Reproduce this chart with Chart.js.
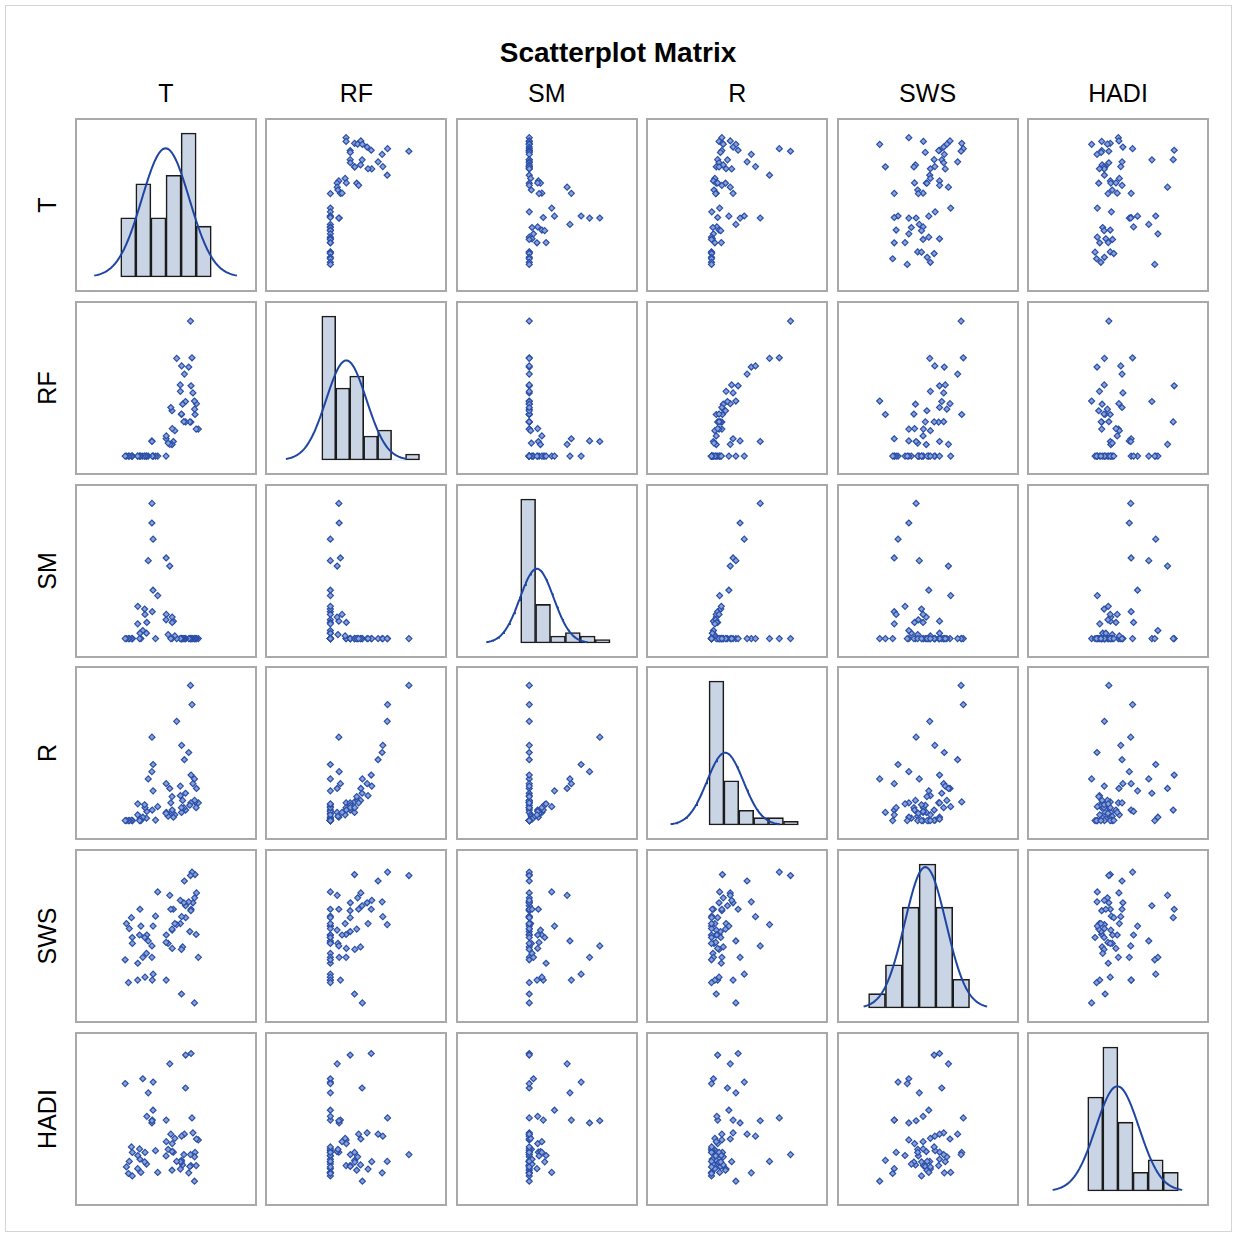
<!DOCTYPE html>
<html>
<head>
<meta charset="utf-8">
<script src="https://cdn.jsdelivr.net/npm/chart.js@4.4.1/dist/chart.umd.min.js"></script>
<style>
  html, body { margin: 0; padding: 0; background: #fff; }
  body { width: 1233px; height: 1233px; position: relative; overflow: hidden;
         font-family: "Liberation Sans", Arial, sans-serif; color: #000; }
  #frame { position: absolute; left: 5px; top: 5px; width: 1225px; height: 1225px;
           border: 1px solid #d4d4d4; }
  .txt { position: absolute; text-align: center; white-space: nowrap; }
  .title { font-size: 28px; font-weight: bold; height: 34px; line-height: 34px; }
  .lab { font-size: 25px; height: 30px; line-height: 30px; }
  .panel { position: absolute; box-sizing: border-box; width: 182px; height: 174px;
           border: 2px solid #a9a9a9; background: #fff; }
  .panel canvas { display: block; }
</style>
</head>
<body>
<div id="frame"></div>
<div id="root"></div>
<script>
// ---- observations (one entry per site, same order in every array) ----
const T = [31.1, 30.58, 30.49, 30.18, 30.05, 30.02, 29.58, 29.32, 29.06, 29.0,
           28.9, 28.71, 28.4, 27.53, 27.5, 27.18, 27.03, 26.68, 26.37, 26.35,
           26.4, 26.02, 26.05, 25.0, 24.48, 24.08, 23.72, 23.7, 23.75, 23.36,
           23.06, 22.6, 22.05, 22.08, 22.02, 19.66, 19.05, 18.37, 18.35, 18.13,
           18.03, 18.05, 17.0, 16.6, 16.5, 16.09, 15.99, 15.47, 14.93, 14.67,
           14.56, 14.05, 14.02, 12.53, 12.5, 12.27, 11.66, 11.42, 10.85, 10.5];
const RF = [23.9, 46.4, 23.9, 36.8, 41.5, 48.7, 55.9, 87.0, 62.2, 30.1,
            119.5, 30.3, 78.8, 30.2, 48.3, 72.6, 30.4, 45.9, 36.8, 37.2,
            79.8, 63.0, 57.3, 86.5, 22.5, 12.9, 10.2, 40.1, 24.3, 43.0,
            10.4, 11.5, 15.3, 17.8, 0, 0, 0, 0, 0, 0,
            13.4, 12.9, 0, 0, 0, 0, 0, 0, 0, 0,
            0, 0, 0, 0, 0, 0, 0, 0, 0, 0];
const SM = [0, 0, 0, 0, 0, 0, 0, 0, 0, 0,
            0, 0, 0, 0, 0, 0, 0, 0, 0, 0,
            0, 0, 0, 0, 1.0, 6.5, 8, 0, 6, 0,
            27, 1.5, 30, 9, 7, 16, 0, 37, 18, 10,
            43, 50.3, 29, 6, 2, 9, 11, 3, 0, 2,
            0, 12, 5.5, 0, 0, 0, 0, 0, 0, 0];
const R = [4, 7, 3, 4.2, 4.5, 9, 8, 24.5, 9.8, 4,
           28.5, 3.5, 14.5, 2.5, 6, 13, 3, 4.5, 2, 3,
           16, 7.5, 5.5, 21, 1.5, 1, 2, 5.3, 2.5, 4,
           7, 1.2, 8, 2, 1.8, 3.2, 0.4, 12, 6.5, 2.5,
           10.5, 17.7, 9, 2.2, 0.8, 3.0, 3.6, 1.0, 0.3, 0.6,
           0.3, 3.8, 1.5, 0.3, 0.3, 0.35, 0.3, 0.3, 0.3, 0.3];
const SWS = [21.6, 34.6, 26.2, 38.3, 33.6, 12.4, 32.6, 38.8, 31.3, 31.0,
             38.1, 26.8, 32.8, 29.6, 32.0, 37.0, 32.6, 23.7, 14.2, 23.2,
             29.8, 33.1, 28.4, 28.2, 28.4, 31.3, 27.1, 27.3, 23.4, 31.3,
             34.1, 24.4, 17.0, 26.1, 24.6, 34.8, 29.9, 18.2, 27.9, 17.0,
             21.6, 23.9, 24.9, 26.1, 22.4, 17.6, 25.6, 21.6, 27.9, 31.3,
             26.1, 20.4, 17.0, 24.4, 25.6, 29.6, 27.4, 16.5, 28.4, 21.1];
const HADI = [0.403, 0.407, 0.286, 0.346, 0.326, 0.215, 0.435, 0.503, 0.796, 0.286,
              0.336, 0.282, 0.253, 0.789, 0.639, 0.429, 0.336, 0.289, 0.31, 0.302,
              0.42, 0.304, 0.27, 0.305, 0.41, 0.347, 0.35, 0.265, 0.386, 0.429,
              0.749, 0.36, 0.493, 0.395, 0.33, 0.255, 0.354, 0.666, 0.538, 0.493,
              0.48, 0.49, 0.617, 0.51, 0.293, 0.346, 0.303, 0.681, 0.255, 0.315,
              0.362, 0.332, 0.272, 0.346, 0.239, 0.371, 0.305, 0.25, 0.28, 0.659];

const VAR_NAMES = ['T', 'RF', 'SM', 'R', 'SWS', 'HADI'];
const VAR_DATA = [T, RF, SM, R, SWS, HADI];

// histogram binning for each variable: first bin edge, bin width, number of bins
const BIN_START = [10, -10, -5, 0, 10, 0.2];
const BIN_WIDTH = [4, 20, 10, 5, 5, 0.1];
const BIN_COUNT = [6, 7, 6, 6, 6, 6];

// axis extents: horizontal (column) and vertical (row) for each variable
const X_RANGE = [[-1.6, 45.6], [-88.5, 166.5], [-47.1, 72.4], [-20.5, 39.3], [1.2, 54.1], [-0.189, 0.99]];
const Y_RANGE = [[7.19, 33.13], [-10.4, 130.9], [-4.54, 54.84], [-2.25, 31.05], [9.8, 42.0], [0.135, 0.861]];

// ---- layout ----
const GRID_LEFT = 75, GRID_TOP = 118, STEP_X = 190.4, STEP_Y = 182.8;
const PANEL_W = 182, PANEL_H = 174, BORDER = 2;
const MARK = '#2a4ea8';
const MARK_FILL = '#8aa2d8';
const CURVE = '#1f45a3';

const root = document.getElementById('root');

function addText(cls, text, left, top, width, rotate) {
  const d = document.createElement('div');
  d.className = 'txt ' + cls;
  d.textContent = text;
  d.style.left = left + 'px';
  d.style.top = top + 'px';
  d.style.width = width + 'px';
  if (rotate) d.style.transform = 'rotate(-90deg)';
  root.appendChild(d);
}

addText('title', 'Scatterplot Matrix', 618 - 300, 36.3, 600);

VAR_NAMES.forEach((name, k) => {
  const cx = GRID_LEFT + STEP_X * k + PANEL_W / 2;
  addText('lab', name, cx - PANEL_W / 2, 78.3, PANEL_W);
  const cy = GRID_TOP + STEP_Y * k + PANEL_H / 2;
  addText('lab', name, 46.7 - PANEL_H / 2, cy - 15, PANEL_H, true);
});

const baseOptions = () => ({
  responsive: false,
  animation: false,
  devicePixelRatio: 1,
  events: [],
  layout: { padding: 0 },
  plugins: { legend: { display: false }, tooltip: { enabled: false }, title: { display: false } }
});

function histogram(k) {
  const vals = VAR_DATA[k];
  const counts = new Array(BIN_COUNT[k]).fill(0);
  vals.forEach(v => {
    let b = Math.floor((v - BIN_START[k]) / BIN_WIDTH[k] + 1e-9);
    b = Math.max(0, Math.min(BIN_COUNT[k] - 1, b));
    counts[b] += 1;
  });
  return counts.map((c, b) => ({ x: BIN_START[k] + BIN_WIDTH[k] * (b + 0.5), y: c }));
}

function normalCurve(k) {
  const vals = VAR_DATA[k];
  const n = vals.length;
  const mean = vals.reduce((a, b) => a + b, 0) / n;
  const sd = Math.sqrt(vals.reduce((a, b) => a + (b - mean) * (b - mean), 0) / (n - 1));
  const pts = [];
  const steps = 120;
  for (let s = 0; s <= steps; s++) {
    const x = mean - 3 * sd + (6 * sd) * s / steps;
    const z = (x - mean) / sd;
    const dens = Math.exp(-0.5 * z * z) / (sd * Math.sqrt(2 * Math.PI));
    pts.push({ x, y: n * BIN_WIDTH[k] * dens });
  }
  return pts;
}

function makePanel(i, j) {
  const div = document.createElement('div');
  div.className = 'panel';
  div.style.left = Math.round(GRID_LEFT + STEP_X * j) + 'px';
  div.style.top = Math.round(GRID_TOP + STEP_Y * i) + 'px';
  const cv = document.createElement('canvas');
  cv.width = PANEL_W - 2 * BORDER;
  cv.height = PANEL_H - 2 * BORDER;
  cv.style.width = cv.width + 'px';
  cv.style.height = cv.height + 'px';
  div.appendChild(cv);
  root.appendChild(div);

  const opts = baseOptions();
  if (i === j) {
    const bins = histogram(j);
    const curve = normalCurve(j);
    const top = Math.max(...bins.map(b => b.y), ...curve.map(p => p.y));
    opts.scales = {
      x: { type: 'linear', display: false, offset: false, min: X_RANGE[j][0], max: X_RANGE[j][1],
           ticks: { stepSize: BIN_WIDTH[j], includeBounds: false } },
      y: { type: 'linear', display: false, min: -0.09 * top, max: 1.09 * top }
    };
    new Chart(cv, {
      type: 'bar',
      data: {
        datasets: [
          { type: 'line', data: curve, borderColor: CURVE, borderWidth: 2, pointRadius: 0,
            tension: 0, fill: false, order: 1 },
          { type: 'bar', data: bins, backgroundColor: '#c9d4e4', borderColor: '#1c1c1c',
            borderWidth: c => (c.raw && c.raw.y > 0 ? 1.6 : 0), borderSkipped: false,
            barPercentage: 1, categoryPercentage: 1, order: 2 }
        ]
      },
      options: opts
    });
  } else {
    const xs = VAR_DATA[j], ys = VAR_DATA[i];
    const pts = xs.map((x, n) => ({ x, y: ys[n] }));
    opts.scales = {
      x: { type: 'linear', display: false, min: X_RANGE[j][0], max: X_RANGE[j][1] },
      y: { type: 'linear', display: false, min: Y_RANGE[i][0], max: Y_RANGE[i][1] }
    };
    new Chart(cv, {
      type: 'scatter',
      data: {
        datasets: [{
          data: pts,
          pointStyle: 'rectRot',
          pointRadius: 3,
          pointBorderWidth: 1.2,
          pointBorderColor: MARK,
          pointBackgroundColor: MARK_FILL
        }]
      },
      options: opts
    });
  }
}

for (let i = 0; i < 6; i++) {
  for (let j = 0; j < 6; j++) makePanel(i, j);
}
</script>
</body>
</html>
